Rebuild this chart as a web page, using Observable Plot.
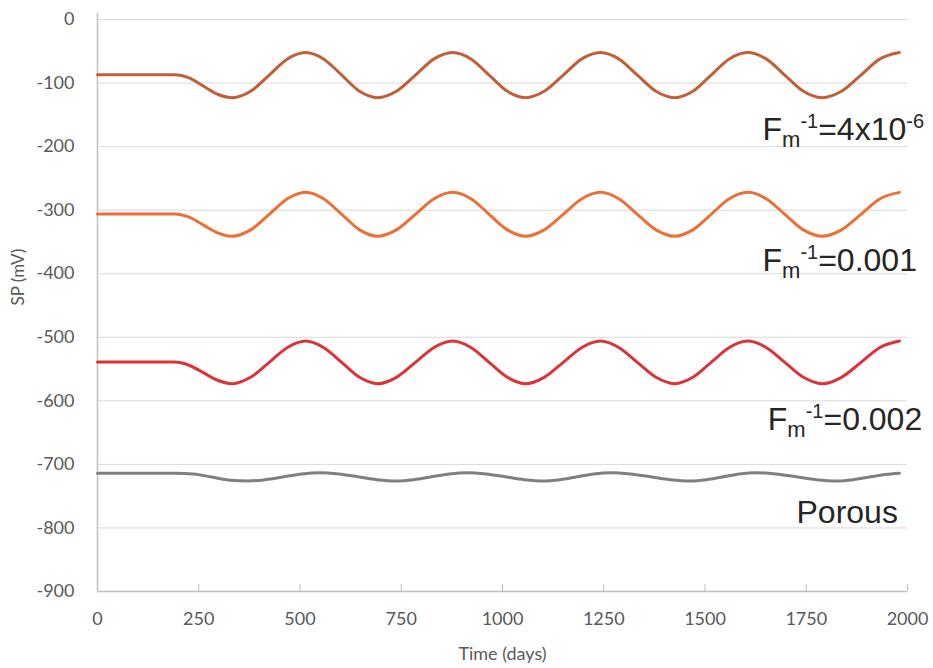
<!DOCTYPE html>
<html><head><meta charset="utf-8">
<script src="https://cdn.jsdelivr.net/npm/d3@7"></script>
<script src="https://cdn.jsdelivr.net/npm/@observablehq/plot@0.6"></script>
<style>body{margin:0;background:#fff}</style>
</head><body><div id="chart"></div>
<script>
// ---- data (points along each curve) ----
const days = [0, 100, 190, 226, 262, 298, 333,
  378, 424, 469, 514, 558, 603, 647, 692,
  738, 785, 831, 877, 922, 967, 1012, 1057,
  1103, 1150, 1196, 1242, 1287, 1333, 1379, 1425,
  1470, 1515, 1560, 1605, 1651, 1697, 1743, 1789,
  1837, 1885, 1932, 1980];
const fm4e6 = [-87, -87, -87, -92, -105, -118, -123,
  -113, -87.5, -62, -52, -62, -87.5, -113, -123,
  -113, -87.5, -62, -52, -62, -87.5, -113, -123,
  -113, -87.5, -62, -52, -62, -87.5, -113, -123,
  -113, -87.5, -62, -52, -62, -87.5, -113, -123,
  -113, -87.5, -62, -52];
const fm001 = [-306, -306, -306, -311, -323.5, -336, -341,
  -331, -306.5, -282, -272, -282, -306.5, -331, -341,
  -331, -306.5, -282, -272, -282, -306.5, -331, -341,
  -331, -306.5, -282, -272, -282, -306.5, -331, -341,
  -331, -306.5, -282, -272, -282, -306.5, -331, -341,
  -331, -306.5, -282, -272];
const fm002 = [-539, -539, -539, -544, -556, -568, -573,
  -563, -539.5, -516, -506, -516, -539.5, -563, -573,
  -563, -539.5, -516, -506, -516, -539.5, -563, -573,
  -563, -539.5, -516, -506, -516, -539.5, -563, -573,
  -563, -539.5, -516, -506, -516, -539.5, -563, -573,
  -563, -539.5, -516, -506];
const porousDays = [0, 100, 192, 237, 282, 328, 373,
  415, 460, 504, 548, 596, 643, 690, 738,
  781, 825, 869, 913, 960, 1007, 1054, 1101,
  1142, 1184, 1225, 1267, 1316, 1365, 1414, 1464,
  1504, 1545, 1585, 1625, 1675, 1725, 1775, 1826,
  1866, 1905, 1945, 1980];
const porous = [-714, -714, -714, -715, -720, -725, -726,
  -724, -719.5, -715, -713, -715, -719.5, -724, -726,
  -724, -719.5, -715, -713, -715, -719.5, -724, -726,
  -724, -719.5, -715, -713, -715, -719.5, -724, -726,
  -724, -719.5, -715, -713, -715, -719.5, -724, -726,
  -724, -720, -716, -714];

const labelText = ["F_{m}^{-1}=4x10^{-6}", "F_{m}^{-1}=0.001", "F_{m}^{-1}=0.002", "Porous"];
const labelX = [1642, 1642, 1655, 1726];
const labelY = [-190, -395, -646, -793];

const xTicks = [0, 250, 500, 750, 1000, 1250, 1500, 1750, 2000];
const yTicks = [-900, -800, -700, -600, -500, -400, -300, -200, -100, 0];
const yGrid = [-800, -700, -600, -500, -400, -300, -200, -100, 0];
const xTitle = "Time (days)";
const yTitle = "SP (mV)";

// ---- tables for the library ----
const pts = (xs, ys) => xs.map((d, i) => ({day: d, sp: ys[i]}));
const labels = labelText.map((t, i) => ({text: t, x: labelX[i], y: labelY[i]}));

const lineOpts = {x: "day", y: "sp", strokeWidth: 3, curve: "monotone-x"};

const chart = Plot.plot({
  width: 933,
  height: 668,
  marginTop: 19,
  marginBottom: 77,
  marginLeft: 97,
  marginRight: 26,
  style: {fontFamily: "Lato, sans-serif", background: "#fff"},
  x: {domain: [0, 2000]},
  y: {domain: [-900, 0]},
  marks: [
    Plot.ruleY(yGrid, {stroke: "#d9d9d9", strokeWidth: 1}),
    Plot.ruleY([-900], {stroke: "#bfbfbf", strokeWidth: 1.5}),
    Plot.ruleX([0], {stroke: "#bfbfbf", strokeWidth: 1.5, insetTop: -6}),
    Plot.axisY({ticks: yTicks, tickSize: 0, tickPadding: 23, fontSize: 18, fill: "#595959", label: null, tickFormat: d => String(d)}),
    Plot.axisX({ticks: xTicks, tickSize: -7, tickPadding: 28, fontSize: 18, fill: "#595959", stroke: "#bfbfbf", label: null, tickFormat: d => String(d)}),
    Plot.line(pts(porousDays, porous), {...lineOpts, stroke: "#7f7f7f"}),
    Plot.line(pts(days, fm002), {...lineOpts, stroke: "#da3338"}),
    Plot.line(pts(days, fm001), {...lineOpts, stroke: "#ec7035"}),
    Plot.line(pts(days, fm4e6), {...lineOpts, stroke: "#c06038"}),
    Plot.text(labels, {x: "x", y: "y", text: "text", textAnchor: "start", lineAnchor: "bottom", fontSize: 32, fontFamily: "Liberation Sans, Arial, sans-serif", fill: "#262626"}),
    Plot.text([yTitle], {frameAnchor: "left", dx: -79, rotate: -90, fontSize: 17, fill: "#595959"}),
    Plot.text([xTitle], {frameAnchor: "bottom", dy: 68, fontSize: 18, fill: "#595959"})
  ]
});

// render sub/superscripts as real tspans
d3.select(chart).selectAll("text").filter(function() {
  return /[_^]\{/.test(this.textContent);
}).each(function() {
  const raw = this.textContent;
  const sel = d3.select(this);
  sel.text(null);
  const re = /_\{([^}]*)\}|\^\{([^}]*)\}|([^_^]+)/g;
  let m, shift = 0;
  while ((m = re.exec(raw))) {
    let target, size, content;
    if (m[1] !== undefined) { target = 7; size = 22; content = m[1]; }
    else if (m[2] !== undefined) { target = -12; size = 20; content = m[2]; }
    else { target = 0; size = null; content = m[3]; }
    const t = sel.append("tspan").attr("dy", target - shift).text(content);
    if (size) t.attr("font-size", size);
    shift = target;
  }
});

document.getElementById("chart").appendChild(chart);
</script>
</body></html>
